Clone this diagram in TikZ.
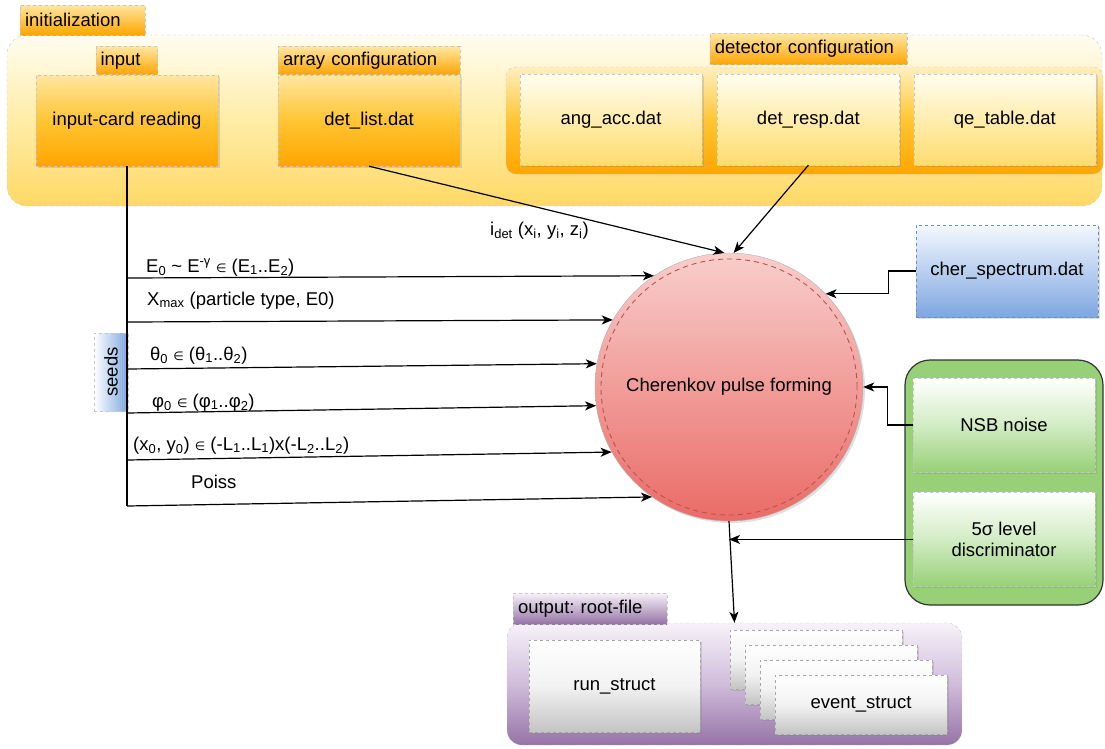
\documentclass[tikz,border=0pt]{standalone}
\usepackage{fontspec}
\setmainfont{Liberation Sans}
\newfontfamily\dejavu{DejaVu Sans}
\usetikzlibrary{arrows.meta,positioning,fit,shadows}

\definecolor{ortop}{HTML}{FFE6A0}
\definecolor{ormid}{HTML}{FFC533}
\definecolor{orbot}{HTML}{FFA500}
\definecolor{inittop}{HTML}{FFFDF2}
\definecolor{initmid}{HTML}{FFECA6}
\definecolor{initbot}{HTML}{FFD966}
\definecolor{dettop}{HTML}{FFEFBF}
\definecolor{detbot}{HTML}{FFA500}
\definecolor{ytop}{HTML}{FFFDF0}
\definecolor{ymid}{HTML}{FFEDAE}
\definecolor{ybot}{HTML}{FFDC6E}
\definecolor{bluetop}{HTML}{F4F8FF}
\definecolor{bluebot}{HTML}{7EA6E0}
\definecolor{blueline}{HTML}{6C8EBF}
\definecolor{greenfill}{HTML}{97D077}
\definecolor{greenmid}{HTML}{D2ECC4}
\definecolor{redtop}{HTML}{F8CECC}
\definecolor{redbot}{HTML}{EA6B66}
\definecolor{redline}{HTML}{B85450}
\definecolor{purtop}{HTML}{F7F2F9}
\definecolor{purmid}{HTML}{D0BCDB}
\definecolor{purbot}{HTML}{9673A6}
\definecolor{greybot}{HTML}{C4C4C4}

\newcommand{\elem}{{\dejavu\fontsize{12}{12}\selectfont ∈}}

\tikzset{
  box/.style={draw=gray!45, dashed, inner sep=0pt, align=center},
  shade/.style={drop shadow={shadow xshift=2pt, shadow yshift=-2pt, opacity=.25}},
  tab/.style={box, top color=ortop, bottom color=orbot, align=left},
  obox/.style={box, shade, top color=ortop, bottom color=orbot, middle color=ormid,
    minimum width=182pt, minimum height=91pt},
  ybox/.style={box, shade, top color=ytop, bottom color=ybot, middle color=ymid,
    minimum width=182pt, minimum height=91pt},
  initgroup/.style={box, rounded corners=20pt, top color=inittop, bottom color=initbot, middle color=initmid},
  detgroup/.style={box, rounded corners=10pt, top color=dettop, bottom color=detbot, middle color=ormid},
  bluebox/.style={box, shade, draw=blueline, top color=bluetop, bottom color=bluebot,
    minimum width=182pt, minimum height=92pt},
  seedbox/.style={box, left color=white, right color=bluebot},
  greengroup/.style={draw=black!80, line width=1.2pt, rounded corners=25pt, fill=greenfill, inner sep=0pt},
  gbox/.style={box, shade, top color=white, bottom color=greenfill, middle color=greenmid,
    minimum width=182pt, minimum height=94pt},
  pulse/.style={circle, draw=gray!60, shade, top color=redtop, bottom color=redbot,
    minimum size=268pt, inner sep=0pt},
  outgroup/.style={box, rounded corners=15pt, top color=purtop, bottom color=purbot, middle color=purmid},
  outtab/.style={box, top color=purtop, bottom color=purbot, align=left},
  greybox/.style={box, draw=gray!70, shade, top color=white, bottom color=greybot, middle color=gray!10},
  evbox/.style={greybox, minimum width=172pt, minimum height=59pt},
  conn/.style={line width=1.2pt},
  arrow/.style={conn, -{Stealth[length=11pt, width=9pt, inset=3pt]}},
  lbl/.style={anchor=base west, inner sep=0pt},
}

\begin{document}
\begin{tikzpicture}[x=1pt, y=-1pt, font=\fontsize{18.5}{21}\selectfont]
\useasboundingbox (0,0) rectangle (1105,748);

% initialization block
\node[initgroup, fit={(7,35) (1102,206)}] (init) {};
\node[tab, minimum width=125pt, minimum height=30pt, text width=115pt] (inittab) at (82.5,20) {initialization};
\node[obox] (card) at (127,120.5) {input-card reading};
\node[tab, minimum width=61pt, minimum height=28pt, text width=53pt, above=0pt of card] (inputtab) {input};
\node[obox] (detlist) at (369,120.5) {det\_list.dat};
\node[tab, minimum width=182pt, minimum height=28pt, text width=172pt, above=0pt of detlist] (arraytab) {array configuration};
\node[detgroup, fit={(506,67) (1103,174)}] (detgroup) {};
\node[ybox] (angacc) at (611,119.5) {ang\_acc.dat};
\node[ybox, right=15pt of angacc] (detresp) {det\_resp.dat};
\node[ybox, right=14pt of detresp] (qetable) {qe\_table.dat};
\node[tab, minimum width=197pt, minimum height=31pt, text width=187pt, above=9pt of detresp] (dettab) {detector configuration};

% pulse forming
\node[pulse] (pulse) at (729,387) {Cherenkov pulse forming};
\draw[redline, dash pattern=on 5pt off 4pt, line width=0.9pt] (pulse.center) circle[radius=128pt];

\node[bluebox] (cher) at (1007,271) {cher\_spectrum.dat};
\node[greengroup, fit={(905,360) (1103,605)}] (noise) {};
\node[gbox] (nsb) at (1004,425) {NSB noise};
\node[gbox, below=20pt of nsb] (disc) {5σ level\\discriminator};

% output
\node[outgroup, fit={(507,623) (962,745)}] (outgroup) {};
\node[outtab, minimum width=154pt, minimum height=31pt, text width=144pt] (outtab) at (590,608.5) {output:\ root-file};
\node[greybox, minimum width=171pt, minimum height=92pt] (run) at (614.5,686) {run\_struct};
\node[evbox] (ev1) at (816,659.5) {};
\node[evbox] (ev2) at (831,674.5) {};
\node[evbox] (ev3) at (846,689.5) {};
\node[evbox] (ev4) at (861,704.5) {event\_struct};

% seeds
\node[seedbox, fit={(94,333) (128,411)}, label={[rotate=90]center:seeds}] (seeds) {};

% input lines
\coordinate (tapE) at (127,278);
\coordinate (tapX) at (127,322);
\coordinate (tapT) at (127,369);
\coordinate (tapP) at (127,413);
\coordinate (tapL) at (127,460);
\coordinate (tapN) at (127,506);
\draw[conn] (card.south) -- (tapN);
\draw[arrow] (tapE) -- (pulse.124);
\draw[arrow] (tapX) -- (pulse.150);
\draw[arrow] (tapT) -- (pulse.170);
\draw[arrow] (tapP) -- (pulse.188);
\draw[arrow] (tapL) -- (pulse.209);
\draw[arrow] (tapN) -- (pulse.235);

\node[lbl] (lE) at (146,272) {E\textsubscript{0} \textasciitilde{} E\textsuperscript{-γ} \elem{} (E\textsubscript{1}..E\textsubscript{2})};
\node[lbl] (lX) at (147,305) {X\textsubscript{max} (particle type, E0)};
\node[lbl] (lT) at (150,360) {θ\textsubscript{0} \elem{} (θ\textsubscript{1}..θ\textsubscript{2})};
\node[lbl] (lP) at (152,407) {φ\textsubscript{0} \elem{} (φ\textsubscript{1}..φ\textsubscript{2})};
\node[lbl] (lL) at (133,450) {(x\textsubscript{0}, y\textsubscript{0}) \elem{} (-L\textsubscript{1}..L\textsubscript{1})x(-L\textsubscript{2}..L\textsubscript{2})};
\node[lbl] (lN) at (191,488) {Poiss};

% configuration into pulse
\draw[arrow] (detlist.south) -- (pulse.92);
\node[lbl] (lI) at (490,235) {i\textsubscript{det} (x\textsubscript{i}, y\textsubscript{i}, z\textsubscript{i})};
\draw[arrow] (detresp.south) -- (pulse.88);
\draw[arrow] (cher.west) -- ++(-27,0) |- (pulse.44);
\draw[arrow] (nsb.west) -- ++(-25,0) |- (pulse.east);

% to output
\draw[arrow] (pulse.south) -- (outgroup.north);
\draw[arrow] (disc.west) -- (disc.west -| pulse.south);
\end{tikzpicture}
\end{document}
